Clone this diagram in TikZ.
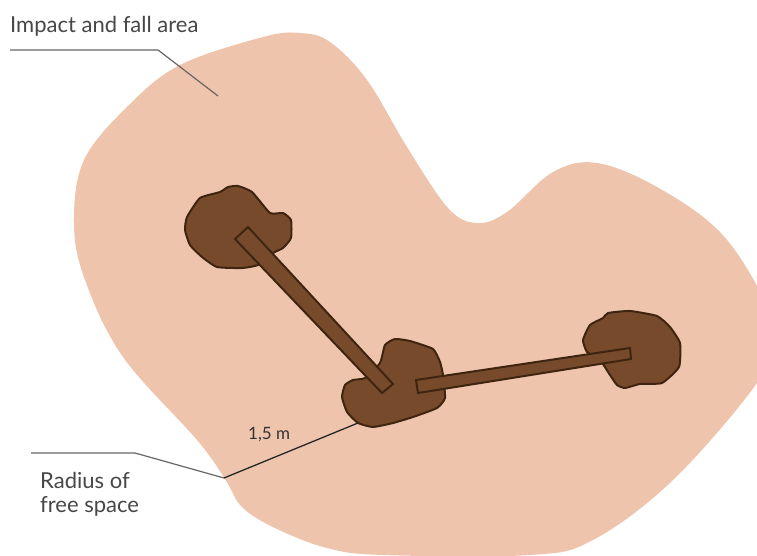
\documentclass[tikz,border=0pt]{standalone}
\usepackage{fontspec}
\setmainfont{Lato}
\usetikzlibrary{positioning}

\begin{document}
\begin{tikzpicture}[
    x=1pt, y=-1pt,
    fallarea/.style={fill=areapink, draw=none},
    stump/.style={fill=stumpbrown, draw=stumpedge, line width=2pt, line join=round},
    beam/.style={fill=stumpbrown, draw=stumpedge, line width=2pt, line join=miter},
    leader/.style={draw=black!60, line width=1.2pt},
    radius/.style={draw=black!85, line width=1.3pt},
    caption/.style={anchor=base west, inner sep=0pt, text=black!72, font=\fontsize{22}{24}\selectfont, align=left},
    small_caption/.style={anchor=base west, inner sep=0pt, text=black!80, font=\fontsize{17}{19}\selectfont}
]
    \definecolor{areapink}{HTML}{EFC4AD}
    \definecolor{stumpbrown}{HTML}{774A2B}
    \definecolor{stumpedge}{HTML}{3F2410}
    \useasboundingbox (0,0) rectangle (757,556);
    \clip (0,0) rectangle (757,556);

    % Fall area
    \fill[fallarea] plot[smooth cycle, tension=0.6] coordinates {
        (128,106) (180,65) (263,37) (300,33) (330,42) (367,80)
        (407,147) (448,208) (477,223) (507,212) (553,172)
        (597,163) (657,187) (720,232)
        (762,295) (775,335) (757,383) (673,480) (593,540)
        (530,555) (383,555) (327,548) (275,528) (242,507)
        (225,479) (197,440) (123,357) (85,280)
        (74,223) (84,160)
    };

    % Stumps
    \draw[stump] plot[smooth cycle, tension=0.3] coordinates {
        (238,186) (252,192) (270,213) (283,213) (291,220) (291,238)
        (283,248) (273,253) (258,265) (242,268) (217,267) (202,257) (190,245)
        (185,230) (187,217) (200,198) (220,192) (228,187)
    };
    \draw[stump] plot[smooth cycle, tension=0.3] coordinates {
        (395,339) (410,341) (433,349) (440,362) (443,375) (445,398) (437,408)
        (413,417) (393,423) (373,427) (358,423) (347,412) (342,397) (345,385)
        (353,380) (365,378) (380,363) (385,345)
    };
    \draw[stump] plot[smooth cycle, tension=0.3] coordinates {
        (608,313) (630,311) (657,316) (670,327) (680,343) (679,367) (662,383)
        (640,384) (625,388) (617,385) (610,375) (600,360) (587,352) (583,340)
        (590,325) (603,318)
    };

    % Beams
    \draw[beam] (248,227) -- (393,384) -- (382,393) -- (235,239) -- cycle;
    \draw[beam] (416,380) -- (630,348) -- (631,359) -- (418,393) -- cycle;

    % Labels
    \node[caption] (area_label) at (10,33) {Impact and fall area};
    \node[caption] (free_label) at (40,512) {Radius of\\free space};
    \node[small_caption] (radius_label) at (248,439) {1,5 m};

    % Leader lines
    \coordinate (area_start) at (10,50);
    \coordinate (area_knee) at (158,50);
    \coordinate (area_end) at (218,96);
    \coordinate (free_start) at (31,453);
    \coordinate (free_knee) at (135,453);
    \coordinate (free_end) at (224,478);
    \coordinate (stump_edge) at (358,423);
    \draw[leader] (area_start) -- (area_knee) -- (area_end);
    \draw[leader] (free_start) -- (free_knee) -- (free_end);
    \draw[radius] (free_end) -- (stump_edge);
\end{tikzpicture}
\end{document}
